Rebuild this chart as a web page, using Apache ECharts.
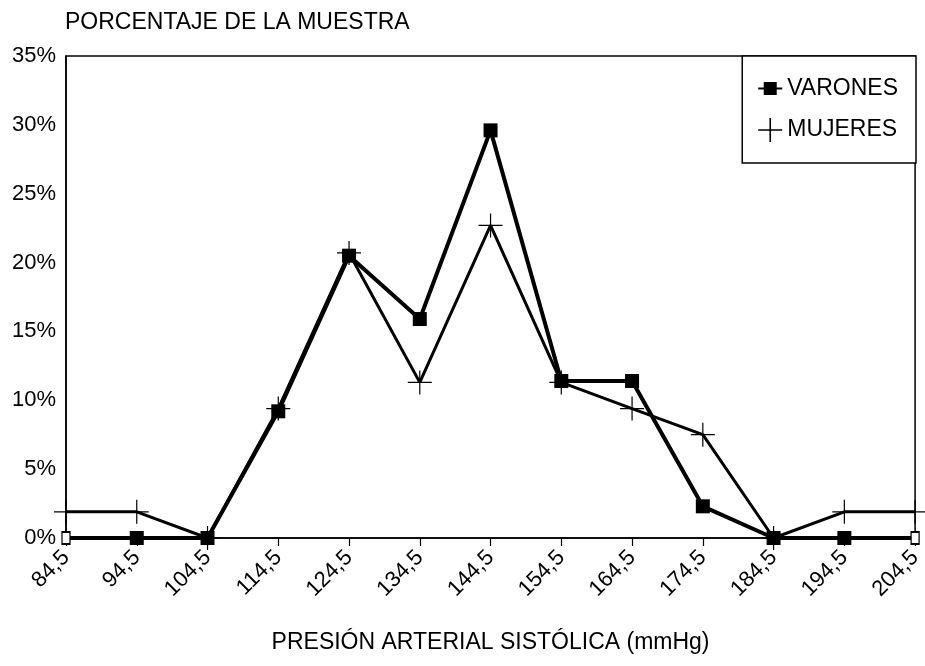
<!DOCTYPE html>
<html>
<head>
<meta charset="utf-8">
<title>Presión arterial sistólica</title>
<script src="https://cdn.jsdelivr.net/npm/echarts@6/dist/echarts.min.js"></script>
<style>
  html, body { margin: 0; padding: 0; background: #fff; }
  #chart { width: 925px; height: 666px; }
</style>
</head>
<body>
<div id="chart"></div>
<script>
// categorías del eje X (mmHg)
const categories = ['84,5', '94,5', '104,5', '114,5', '124,5', '134,5', '144,5',
  '154,5', '164,5', '174,5', '184,5', '194,5', '204,5']
// porcentaje de la muestra
const varones = [0, 0, 0, 9.2, 20.5, 15.9, 29.6, 11.4, 11.4, 2.3, 0, 0, 0]
const mujeres = [1.9, 1.9, 0, 9.4, 20.7, 11.3, 22.7, 11.3, 9.4, 7.5, 0, 1.9, 1.9]
const seriesNames = ['VARONES', 'MUJERES']

const FONT = '"Liberation Sans", Arial, sans-serif'
const PLUS = 'path://M0,11.4H24V12.6H0Z M11.4,0H12.6V24H11.4Z'
const PLUS_ICON = 'path://M0,8.4H18V9.6H0Z M8.4,0H9.6V18H8.4Z'
const SQUARE_ICON = 'path://M0,5.6H24V7.4H0Z M5.5,0H18.5V13H5.5Z'

// los extremos de VARONES aparecen como cuadrados huecos
const varonesData = varones.map((v, i) => {
  if (i === 0 || i === varones.length - 1) {
    return { value: v, symbolSize: [8, 12], itemStyle: { color: '#fff', borderColor: '#000', borderWidth: 1.5 } }
  }
  return v
})

const chart = echarts.init(document.getElementById('chart'))
chart.setOption({
  animation: false,
  backgroundColor: '#fff',
  textStyle: { fontFamily: FONT, color: '#000' },
  title: {
    text: 'PORCENTAJE DE LA MUESTRA',
    left: 60,
    top: 6,
    textStyle: { fontFamily: FONT, fontSize: 23, fontWeight: 'normal', color: '#000' }
  },
  grid: {
    left: 66,
    right: 9,
    top: 56,
    bottom: 128,
    show: true,
    borderColor: '#000',
    borderWidth: 1.5
  },
  legend: {
    orient: 'vertical',
    right: 9,
    top: 56,
    backgroundColor: '#fff',
    borderColor: '#000',
    borderWidth: 1.5,
    borderRadius: 0,
    padding: [21, 18, 21, 16],
    itemGap: 18,
    itemWidth: 24,
    itemHeight: 24,
    textStyle: { fontFamily: FONT, fontSize: 23, color: '#000' },
    data: [
      { name: seriesNames[0], icon: SQUARE_ICON, itemStyle: { color: '#000' } },
      { name: seriesNames[1], icon: PLUS_ICON, itemStyle: { color: '#000' } }
    ]
  },
  xAxis: {
    type: 'category',
    data: categories,
    boundaryGap: false,
    name: 'PRESIÓN ARTERIAL SISTÓLICA (mmHg)',
    nameLocation: 'middle',
    nameGap: 93,
    nameTextStyle: { fontFamily: FONT, fontSize: 23, color: '#000' },
    axisLine: { lineStyle: { color: '#000', width: 1.5 } },
    axisTick: { show: true, length: 8, lineStyle: { color: '#000', width: 1.2 } },
    axisLabel: { rotate: 45, margin: 16, fontFamily: FONT, fontSize: 22, color: '#000' },
    splitLine: { show: false }
  },
  yAxis: {
    type: 'value',
    min: 0,
    max: 35,
    interval: 5,
    axisLine: { show: true, lineStyle: { color: '#000', width: 1.5 } },
    axisTick: { show: false },
    axisLabel: { formatter: '{value}%', margin: 10, fontFamily: FONT, fontSize: 22, color: '#000' },
    splitLine: { show: false }
  },
  series: [
    {
      name: seriesNames[0],
      type: 'line',
      data: varonesData,
      symbol: 'rect',
      symbolSize: 14,
      showAllSymbol: true,
      clip: false,
      itemStyle: { color: '#000' },
      lineStyle: { color: '#000', width: 4 },
      z: 3
    },
    {
      name: seriesNames[1],
      type: 'line',
      data: mujeres,
      symbol: PLUS,
      symbolSize: 24,
      showAllSymbol: true,
      clip: false,
      itemStyle: { color: '#000' },
      lineStyle: { color: '#000', width: 3 },
      z: 4
    }
  ]
})
</script>
</body>
</html>
